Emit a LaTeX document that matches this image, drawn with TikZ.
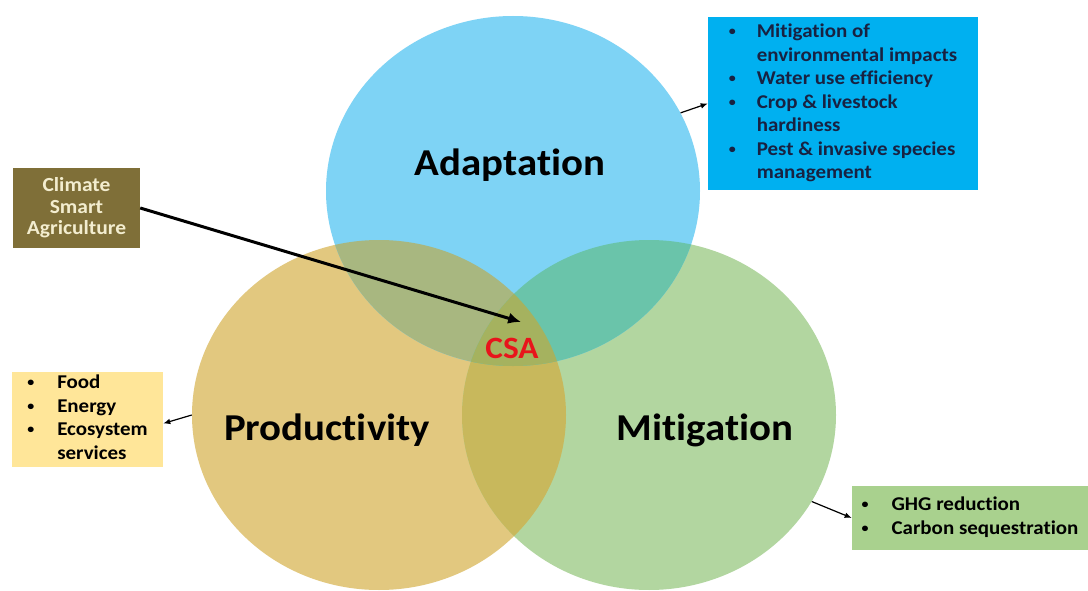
\documentclass[tikz,border=0pt]{standalone}
\usepackage{fontspec}
\setmainfont{Carlito}[FakeStretch=1.075,Ligatures=NoCommon]
\usepackage{xcolor}
\usetikzlibrary{arrows.meta,shapes.geometric}

\definecolor{adblue}{RGB}{126,211,245}
\definecolor{prgold}{RGB}{226,200,127}
\definecolor{migreen}{RGB}{178,214,160}
\definecolor{adprmix}{RGB}{168,183,128}
\definecolor{admimix}{RGB}{106,196,170}
\definecolor{prmimix}{RGB}{200,184,92}
\definecolor{allmix}{RGB}{165,178,95}
\definecolor{csabrown}{RGB}{127,111,56}
\definecolor{cream}{RGB}{243,237,207}
\definecolor{adcyan}{RGB}{0,176,240}
\definecolor{navytext}{RGB}{24,34,66}
\definecolor{prlight}{RGB}{255,230,153}
\definecolor{milight}{RGB}{169,209,142}
\definecolor{csared}{RGB}{232,20,27}

\newcommand{\blt}{\raisebox{2pt}{\fontsize{13}{13}\selectfont\textbullet}}

\begin{document}
\begin{tikzpicture}[x=1pt,y=-1pt,
    bubble/.style={ellipse,inner sep=0pt,minimum width=374pt,minimum height=350pt},
    bubbletext/.style={font=\fontsize{38}{44}\selectfont\bfseries},
    listbox/.style={inner sep=0pt,font=\fontsize{19.5}{23.5}\selectfont\bfseries},
    pointer/.style={-{Latex[length=2.5mm,width=2mm]},line width=1.2pt},
    bigpointer/.style={-{Latex[length=4.5mm,width=4mm]},line width=3pt}
]
\useasboundingbox[fill=white] (0,0) rectangle (1088,591);

\node[bubble,fill=prgold] (prod) at (379,415) {};
\node[bubble,fill=migreen] (mit) at (649,415) {};
\node[bubble,fill=adblue] (adapt) at (513,191) {};

\begin{scope}
\clip (379,415) ellipse [x radius=187pt,y radius=175pt];
\fill[prmimix] (649,415) ellipse [x radius=187pt,y radius=175pt];
\end{scope}
\begin{scope}
\clip (513,191) ellipse [x radius=187pt,y radius=175pt];
\fill[adprmix] (379,415) ellipse [x radius=187pt,y radius=175pt];
\fill[admimix] (649,415) ellipse [x radius=187pt,y radius=175pt];
\clip (379,415) ellipse [x radius=187pt,y radius=175pt];
\fill[allmix] (649,415) ellipse [x radius=187pt,y radius=175pt];
\end{scope}

\node[bubbletext] (adlabel) at (510,165) {Adaptation};
\node[bubbletext] (prlabel) at (327,430) {Productivity};
\node[bubbletext] (milabel) at (705,430) {Mitigation};
\node[font=\fontsize{31}{36}\selectfont\bfseries,text=csared] (csa) at (512,348) {CSA};

\node[fill=csabrown,text=cream,minimum width=127pt,minimum height=80pt,inner sep=0pt,
    align=center,font=\fontsize{20}{21.5}\selectfont\bfseries] (csabox) at (76.5,208)
    {Climate\\Smart\\Agriculture};

\node[listbox,fill=adcyan,text=navytext,minimum width=270pt,minimum height=173pt] (adlist) at (843,103.5) {%
\begin{tabular}{@{}p{28pt}@{}l@{}}
\blt & Mitigation of\\
 & environmental impacts\\
\blt & Water use efficiency\\
\blt & Crop \& livestock\\
 & hardiness\\
\blt & Pest \& invasive species\\
 & management
\end{tabular}};
\node[listbox,fill=prlight,text=black,minimum width=151pt,minimum height=95pt] (prlist) at (87.5,419.5) {%
\begin{tabular}{@{}p{30pt}@{}l@{}}
\blt & Food\\
\blt & Energy\\
\blt & Ecosystem\\
 & services
\end{tabular}};
\node[listbox,fill=milight,text=black,minimum width=236pt,minimum height=64pt] (milist) at (970,518) {%
\begin{tabular}{@{}p{30pt}@{}l@{}}
\blt & GHG reduction\\
\blt & Carbon sequestration
\end{tabular}};

\coordinate (csapt) at (521,322);
\draw[bigpointer] (csabox.east) -- (csapt);
\draw[pointer] (adapt.25) -- (adlist.west);
\draw[pointer] (prod.west) -- ([yshift=-4pt]prlist.east);
\draw[pointer] (mit.-28) -- (milist.west);
\end{tikzpicture}
\end{document}
